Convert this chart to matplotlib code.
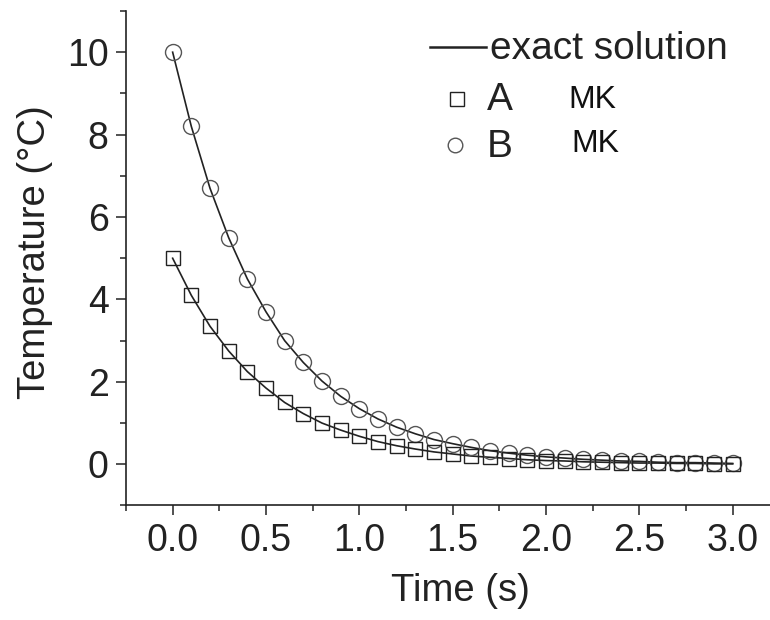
"""Temperature decay: exact solution vs two numerical series."""

import matplotlib
matplotlib.use("Agg")
import matplotlib.pyplot as plt
from matplotlib.lines import Line2D
from matplotlib.ticker import MultipleLocator, FormatStrFormatter

plt.rcParams["font.family"] = ["Liberation Sans", "DejaVu Sans"]

# time samples (s)
time_s = [0.0, 0.1, 0.2, 0.3, 0.4, 0.5, 0.6, 0.7, 0.8, 0.9, 1.0,
          1.1, 1.2, 1.3, 1.4, 1.5, 1.6, 1.7, 1.8, 1.9, 2.0,
          2.1, 2.2, 2.3, 2.4, 2.5, 2.6, 2.7, 2.8, 2.9, 3.0]

# series A (squares)
temp_a = [5.0, 4.1, 3.35, 2.75, 2.25, 1.85, 1.5, 1.23, 1.0, 0.83, 0.68,
          0.55, 0.45, 0.37, 0.3, 0.25, 0.2, 0.17, 0.14, 0.11, 0.09,
          0.08, 0.06, 0.05, 0.04, 0.03, 0.03, 0.02, 0.02, 0.01, 0.01]

# series B (circles)
temp_b = [10.0, 8.2, 6.7, 5.5, 4.5, 3.7, 3.0, 2.47, 2.02, 1.65, 1.35,
          1.1, 0.9, 0.74, 0.6, 0.5, 0.41, 0.33, 0.27, 0.22, 0.18,
          0.15, 0.12, 0.1, 0.08, 0.07, 0.05, 0.04, 0.04, 0.03, 0.02]

legend_labels = ["exact solution", "A", "B"]
legend_notes = ["MK", "MK"]

fig = plt.figure(figsize=(7.7, 6.2), dpi=100)
ax = fig.add_axes([0.1636, 0.1847, 0.8364, 0.7976])

ink = "#222222"

# exact solution curves
ax.plot(time_s, temp_a, color=ink, lw=1.2, zorder=2)
ax.plot(time_s, temp_b, color=ink, lw=1.2, zorder=2)

# numerical points (hollow)
ax.plot(time_s, temp_b, ls="none", marker="o", ms=11.5, mfc="none",
        mec="#555555", mew=1.0, zorder=3)
ax.plot(time_s, temp_a, ls="none", marker="s", ms=10.5, mfc="none",
        mec=ink, mew=1.0, zorder=3)

ax.set_xlim(-0.25, 3.2)
ax.set_ylim(-1, 11)
ax.xaxis.set_major_locator(MultipleLocator(0.5))
ax.xaxis.set_minor_locator(MultipleLocator(0.25))
ax.yaxis.set_major_locator(MultipleLocator(2))
ax.yaxis.set_minor_locator(MultipleLocator(1))
ax.xaxis.set_major_formatter(FormatStrFormatter("%.1f"))

for side in ("top", "right"):
    ax.spines[side].set_visible(False)
for side in ("left", "bottom"):
    ax.spines[side].set_linewidth(1.2)
    ax.spines[side].set_color(ink)

ax.tick_params(which="major", direction="out", length=7.5, width=1.1,
               color=ink, labelsize=27, labelcolor=ink)
ax.tick_params(axis="x", which="major", pad=5)
ax.tick_params(axis="y", which="major", pad=5)
ax.tick_params(which="minor", direction="out", length=4, width=1.1, color=ink)

ax.set_xlabel("Time (s)", fontsize=27.5, color=ink)
ax.xaxis.set_label_coords(0.519, -0.137)
ax.set_ylabel("Temperature (\u00b0C)", fontsize=27.5, color=ink)
ax.yaxis.set_label_coords(-0.114, 0.513)

# legend, laid out by hand to follow the reference spacing
fig.add_artist(Line2D([430 / 770, 486 / 770], [0.924, 0.924], color=ink,
                      lw=1.8, transform=fig.transFigure))
fig.add_artist(Line2D([457 / 770], [0.840], ls="none", marker="s", ms=10,
                      mfc="none", mec=ink, mew=1.0, transform=fig.transFigure))
fig.add_artist(Line2D([455 / 770], [0.766], ls="none", marker="o", ms=10.5,
                      mfc="none", mec="#555555", mew=1.0,
                      transform=fig.transFigure))
fig.text(490 / 770, 1 - 59 / 620, legend_labels[0], fontsize=28,
         color=ink, va="baseline")
fig.text(487 / 770, 1 - 110 / 620, legend_labels[1], fontsize=28,
         color=ink, va="baseline")
fig.text(487 / 770, 1 - 157 / 620, legend_labels[2], fontsize=28,
         color=ink, va="baseline")
fig.text(568 / 770, 1 - 107.5 / 620, legend_notes[0], fontsize=23,
         color="#111111", va="baseline")
fig.text(571 / 770, 1 - 152 / 620, legend_notes[1], fontsize=23,
         color="#111111", va="baseline")

fig.savefig("out.png", dpi=100)
